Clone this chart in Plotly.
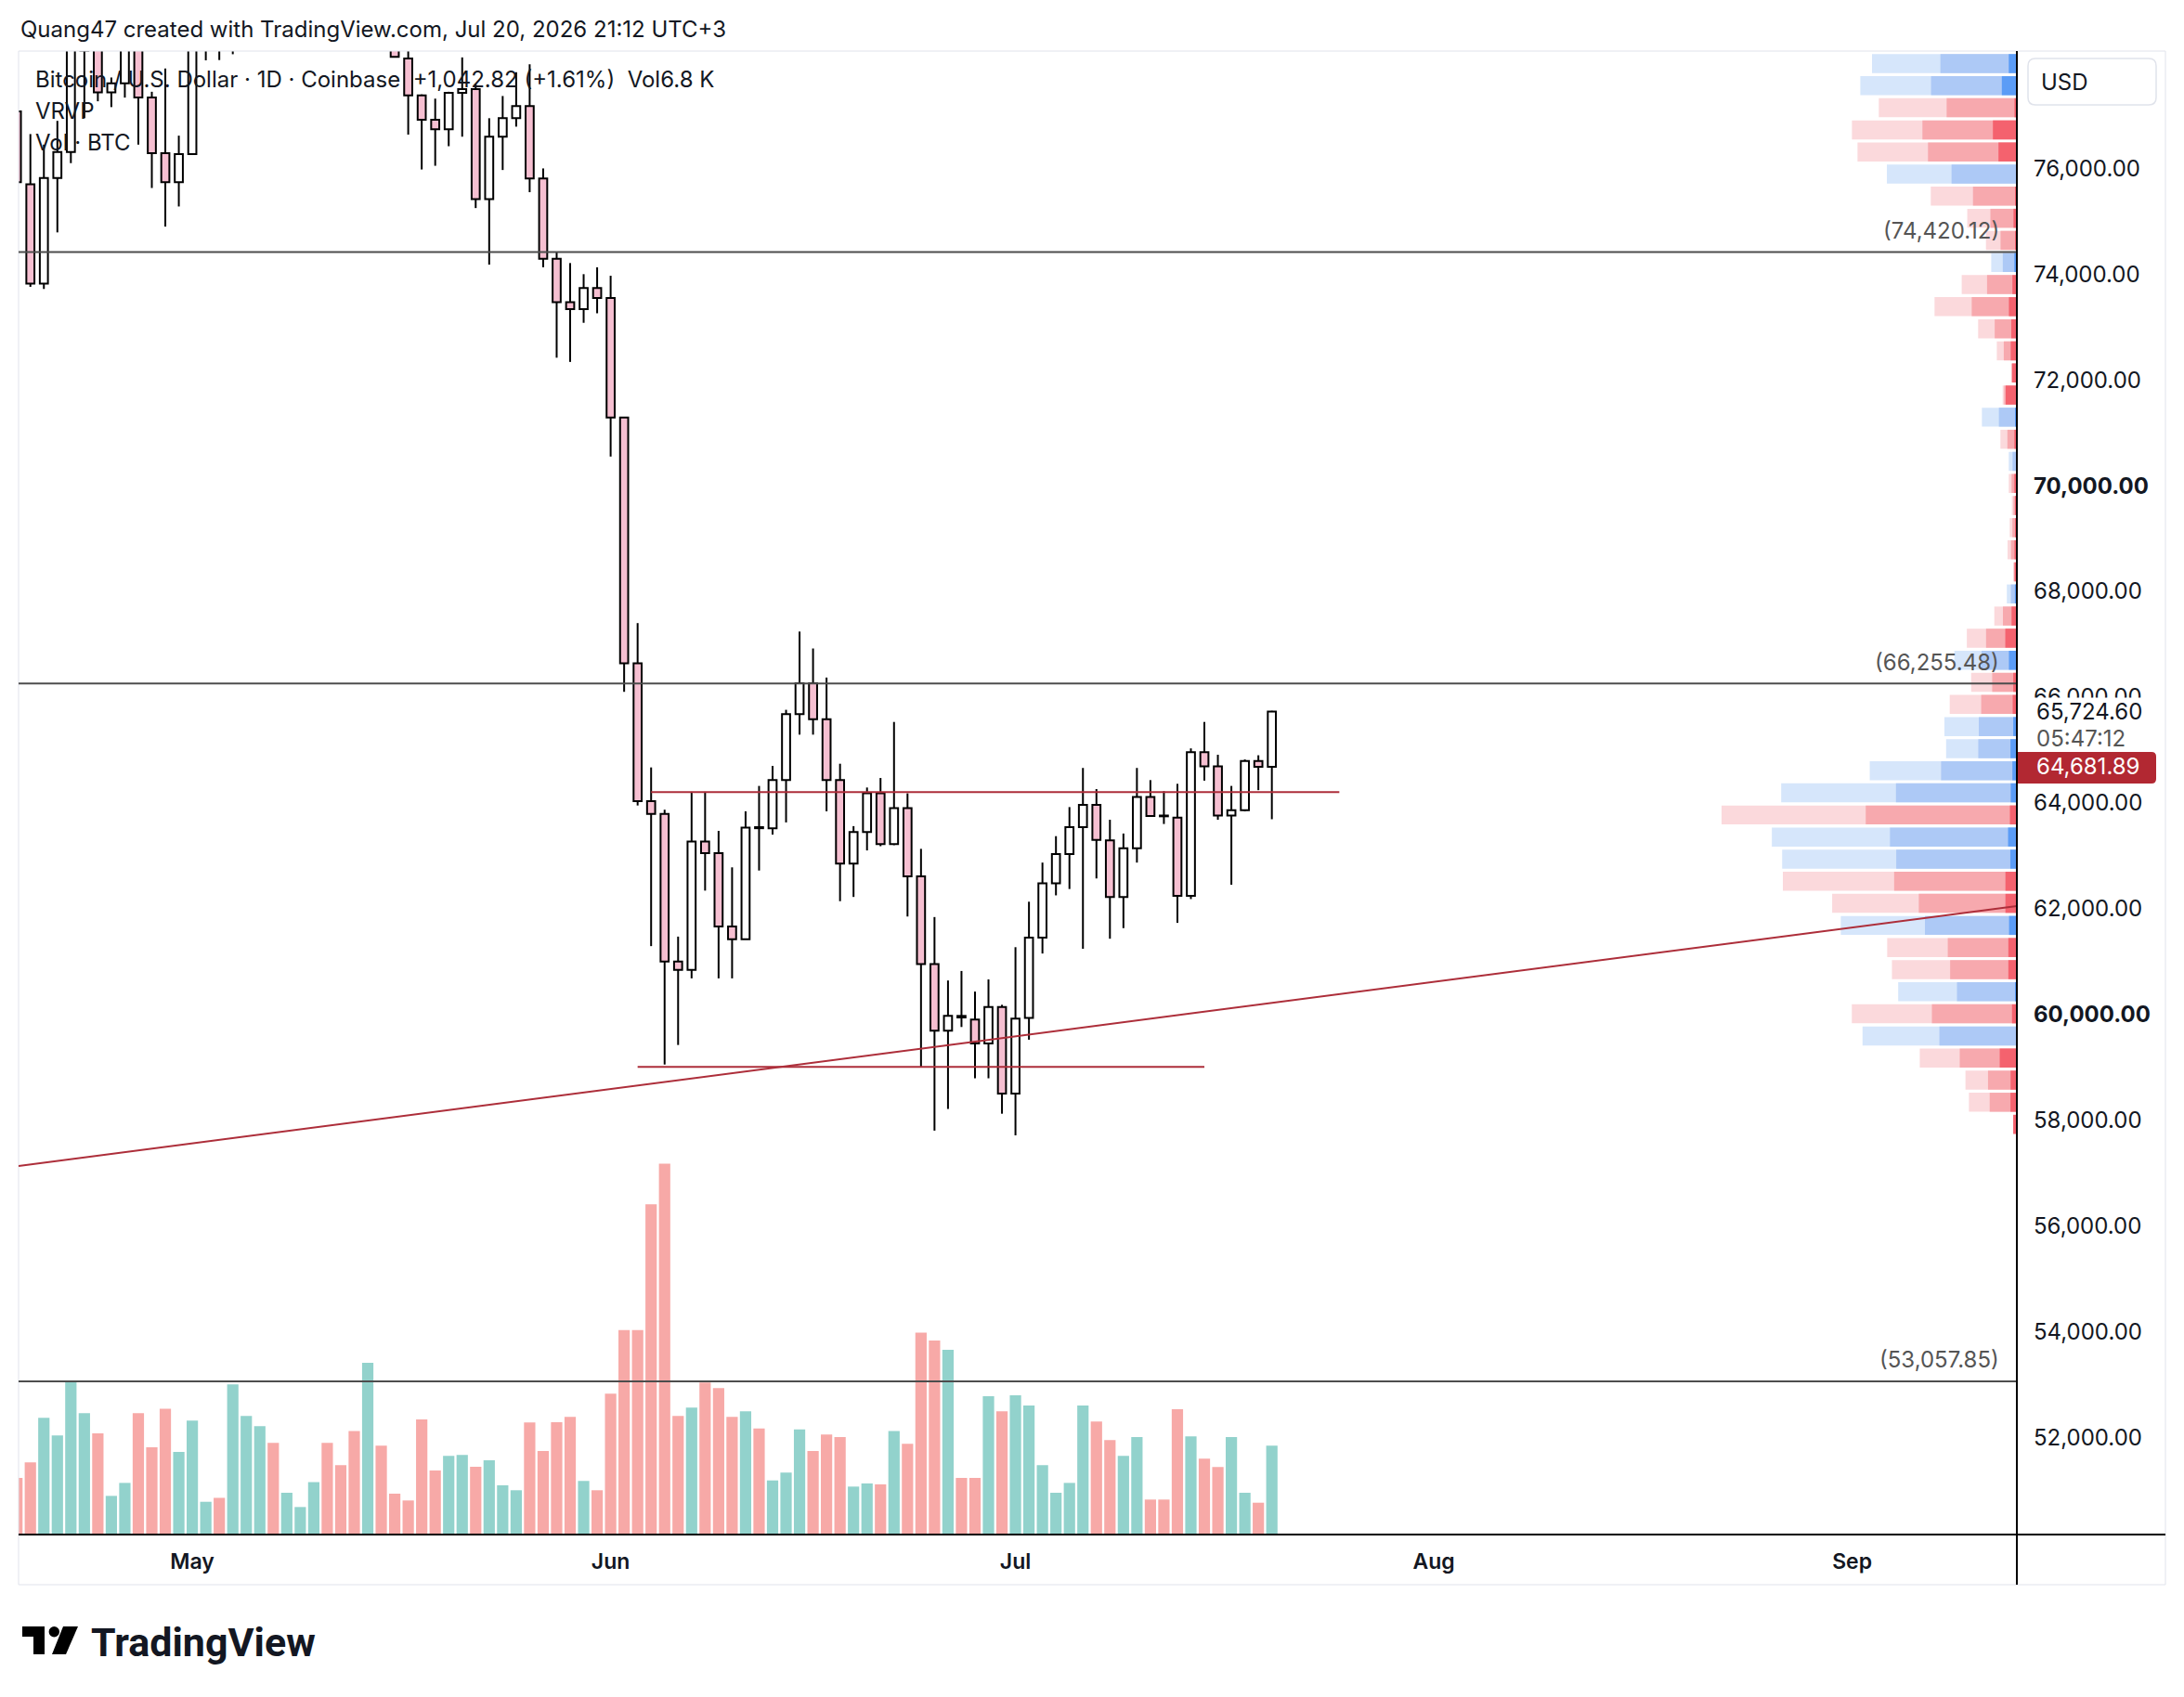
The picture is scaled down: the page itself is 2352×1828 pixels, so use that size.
import pandas as pd
import plotly.graph_objects as go

# ---------------- data ----------------
dates = pd.date_range("2026-04-18", "2026-07-20", freq="D")

open_ = [77080, 75700, 73820, 75820, 76310, 78230, 78700, 77440, 77610, 78400,
         77340, 76290, 75740, 76270, 78250, 78700, 78450, 79100, 79800, 80600,
         80100, 80500, 80700, 81200, 80400, 79900, 79200, 80300, 78600, 78080,
         77380, 76920, 76740, 77430, 77500, 75420, 76600, 76950, 77180, 75810,
         74290, 73470, 73340, 73740, 73550, 71290, 66640, 64030, 63790, 61000,
         60840, 63270, 63050, 61660, 61420, 63540, 63520, 64430, 65680, 66260,
         65580, 64430, 62850, 63450, 64180, 63220, 63900, 62610, 60950, 59690,
         59970, 59900, 59450, 60140, 58500, 59930, 61450, 62480, 63030, 63540,
         63960, 63290, 62220, 63140, 64110, 63760, 63720, 62240, 64960, 64690,
         63760, 63860, 64790, 64681.78]
high = [77300, 76650, 76450, 76900, 78500, 79300, 79000, 77720, 78700, 78650,
        77450, 77890, 76620, 78500, 78900, 78900, 79300, 80200, 81000, 81100,
        80800, 80900, 81500, 81600, 80600, 80100, 80800, 80500, 78800, 78300,
        77400, 77320, 77450, 78100, 77600, 76950, 77370, 77820, 77970, 76000,
        74420, 74210, 74000, 74130, 73970, 71300, 67400, 64670, 63870, 61470,
        64210, 64210, 63470, 62780, 63840, 64320, 64700, 65760, 67240, 66920,
        66370, 64740, 63560, 64290, 64470, 65530, 64180, 63130, 61840, 60640,
        60820, 60430, 60660, 60180, 61270, 62130, 62870, 63370, 63920, 64660,
        64260, 63680, 63420, 64660, 64430, 64220, 64360, 65030, 65530, 64910,
        64320, 64820, 64900, 65740]
low = [75600, 73760, 73720, 74790, 76100, 76950, 77270, 77160, 77340, 76450,
       75630, 74900, 75280, 76260, 78045, 78050, 78160, 78900, 79500, 79700,
       79900, 80300, 80500, 80200, 79600, 78900, 79000, 78350, 78100, 76640,
       75980, 76050, 76420, 76600, 75250, 74180, 75970, 76790, 75550, 74130,
       72420, 72340, 73080, 73260, 70550, 66100, 63950, 61290, 59050, 59420,
       60680, 62340, 60680, 60680, 61420, 62720, 63400, 63630, 65290, 65290,
       63840, 62140, 62220, 63100, 63180, 63200, 61850, 59010, 57800, 58210,
       59760, 58790, 58790, 58120, 57710, 59520, 61150, 62250, 62370, 61240,
       62570, 61430, 61630, 62870, 63740, 63600, 61730, 62180, 64420, 63680,
       62450, 63840, 64240, 63690]
close = [75740, 73820, 75820, 76310, 78300, 78900, 77440, 77610, 78400, 77340,
         76290, 75740, 76270, 78250, 78700, 78450, 79100, 79800, 80600, 80100,
         80500, 80700, 81200, 80400, 79900, 79200, 80300, 78600, 78110, 77380,
         76920, 76740, 77430, 77500, 75420, 76600, 76950, 77180, 75810, 74290,
         73470, 73340, 73740, 73550, 71290, 66640, 64030, 63790, 61000, 60840,
         63270, 63050, 61660, 61420, 63530, 63520, 64430, 65680, 66260, 65580,
         64430, 62850, 63450, 64180, 63220, 63900, 62610, 60950, 59690, 59970,
         59940, 59450, 60140, 58500, 59920, 61450, 62480, 63030, 63540, 63960,
         63300, 62220, 63140, 64110, 63750, 63745, 62240, 64960, 64690, 63760,
         63860, 64790, 64681.78, 65724.60]
volume_k = [4.32, 5.5, 8.9, 7.56, 11.7, 9.26, 7.72, 2.95, 3.94, 9.26,
            6.66, 9.6, 6.3, 8.7, 2.5, 2.8, 11.45, 9.05, 8.27, 7.0,
            3.19, 2.1, 4.0, 7.0, 5.3, 7.9, 13.1, 6.78, 3.12, 2.6,
            8.79, 4.89, 6.0, 6.07, 5.17, 5.67, 3.76, 3.38, 8.55, 6.38,
            8.57, 8.98, 4.09, 3.38, 10.75, 15.6, 15.6, 25.2, 28.3, 9.05,
            9.68, 11.6, 11.17, 8.98, 9.4, 8.1, 4.13, 4.72, 8.03, 6.38,
            7.63, 7.44, 3.66, 3.9, 3.83, 7.9, 6.92, 15.4, 14.8, 14.1,
            4.32, 4.32, 10.56, 9.4, 10.63, 9.85, 5.3, 3.19, 3.94, 9.85,
            8.62, 7.2, 6.0, 7.44, 2.67, 2.67, 9.56, 7.49, 5.79, 5.15,
            7.44, 3.19, 2.43, 6.78]

# visible-range volume profile (rows from the low upward)
PROFILE_LOW = 57710
PROFILE_ROW = 418
profile_up = [0.00, 1.49, 1.62, 2.87, 5.56, 5.75, 4.30, 4.18, 4.35, 6.60,
              6.22, 7.99, 8.66, 9.11, 10.35, 8.68, 5.44, 2.77, 2.73, 2.26,
              1.51, 2.53, 1.38, 0.62, 0.43, 0.05, 0.25, 0.19, 0.12, 0.20,
              0.31, 0.50, 1.29, 0.11, 0.03, 0.50, 1.19, 2.67, 1.82, 1.01,
              1.05, 1.66, 3.03, 4.69, 5.06, 5.06, 4.87, 6.16, 5.49]
profile_down = [0.26, 1.95, 2.07, 4.10, 5.52, 6.10, 4.22, 4.79, 4.96, 6.04,
                7.04, 8.81, 8.19, 8.48, 10.85, 8.24, 5.12, 2.31, 2.47, 2.56,
                1.77, 1.96, 2.21, 1.00, 0.29, 0.21, 0.42, 0.32, 0.24, 0.38,
                0.27, 0.68, 1.22, 0.91, 0.37, 0.94, 1.59, 3.24, 2.14, 0.83,
                1.17, 1.90, 3.15, 4.64, 6.38, 6.78, 5.04, 5.08, 4.91]

grey_levels = [74420.12, 66255.48, 53057.85]
red_levels = [("2026-06-04", "2026-07-25", 64203), ("2026-06-03", "2026-07-15", 59005)]
trend_anchor = [("2026-04-18", 57128.0), ("2026-09-13", 62040.0)]
last_price = 65724.60
prev_close = 64681.89
countdown = "05:47:12"

month_ticks = ["2026-05-01", "2026-06-01", "2026-07-01", "2026-08-01", "2026-09-01"]
month_text = ["May", "Jun", "Jul", "Aug", "Sep"]
price_ticks = list(range(52000, 76001, 2000))

# ---------------- layout geometry ----------------
W, H = 2352, 1828
PL, PR, PT, PB = 20, 2172, 55, 1653
X_RANGE = [pd.Timestamp("2026-04-18 03:00"), pd.Timestamp("2026-09-13 05:00")]
Y_RANGE = [50160, 78220]
VOL_TOP = 113.2
DAY = 86400000

PINK = "#f6bfd1"
TEAL = "#92d2cc"
VRED = "#f7a9a7"
LINE_RED = "#ad2e3a"
TXT = "#131722"
FONT = "Inter, Roboto, sans-serif"
AX = 24  # price-axis font size


def fx(x):
    return (x - PL) / (PR - PL)


def fy(y):
    return (PB - y) / (PB - PT)


def y_of_price(p):
    return PB - (p - Y_RANGE[0]) / (Y_RANGE[1] - Y_RANGE[0]) * (PB - PT)


def rrect(x0, y0, x1, y1, r, left=True):
    rl = r if left else 0
    p = []
    p.append(f"M{fx(x0 + rl)},{fy(y0)}")
    p.append(f"L{fx(x1 - r)},{fy(y0)}")
    p.append(f"Q{fx(x1)},{fy(y0)} {fx(x1)},{fy(y0 + r)}")
    p.append(f"L{fx(x1)},{fy(y1 - r)}")
    p.append(f"Q{fx(x1)},{fy(y1)} {fx(x1 - r)},{fy(y1)}")
    p.append(f"L{fx(x0 + rl)},{fy(y1)}")
    if left:
        p.append(f"Q{fx(x0)},{fy(y1)} {fx(x0)},{fy(y1 - r)}")
        p.append(f"L{fx(x0)},{fy(y0 + r)}")
        p.append(f"Q{fx(x0)},{fy(y0)} {fx(x0 + r)},{fy(y0)}")
    else:
        p.append(f"L{fx(x0)},{fy(y0)}")
    p.append("Z")
    return " ".join(p)


n = len(dates)
up = [c >= o for o, c in zip(open_, close)]

fig = go.Figure()

# wicks (split so they never cross the bodies)
wx, wy = [], []
for d, o, h, l, c in zip(dates, open_, high, low, close):
    top, bot = max(o, c), min(o, c)
    wx += [d, d, None, d, d, None]
    wy += [h, top, None, bot, l, None]
fig.add_trace(go.Scatter(x=wx, y=wy, mode="lines", line=dict(color="#000000", width=2),
                         hoverinfo="skip", showlegend=False))

# bodies
for is_up, fill in [(False, PINK), (True, "#ffffff")]:
    idx = [i for i in range(n) if up[i] == is_up]
    fig.add_trace(go.Bar(
        x=[dates[i] for i in idx],
        y=[max(abs(close[i] - open_[i]), 12) for i in idx],
        base=[min(open_[i], close[i]) for i in idx],
        width=0.6 * DAY,
        marker=dict(color=fill, line=dict(color="#000000", width=2)),
        hoverinfo="skip", showlegend=False))

# volume
fig.add_trace(go.Bar(x=dates, y=volume_k, yaxis="y2", width=0.84 * DAY,
                     marker=dict(color=[TEAL if u else VRED for u in up], line=dict(width=0)),
                     hoverinfo="skip", showlegend=False))

# volume profile
rows = [PROFILE_LOW + PROFILE_ROW * (i + 0.5) for i in range(len(profile_up))]
tot = [u + d for u, d in zip(profile_up, profile_down)]
major = [max(u, d) for u, d in zip(profile_up, profile_down)]
delta = [abs(u - d) for u, d in zip(profile_up, profile_down)]
buy = [u >= d for u, d in zip(profile_up, profile_down)]
shades = [(tot, "#d6e6fb", "#fbd9dc"), (major, "#adc9f6", "#f7a9ae"), (delta, "#5b9cf6", "#f4626e")]
for vals, cb, cr in shades:
    fig.add_trace(go.Bar(x=vals, y=rows, orientation="h", xaxis="x3", yaxis="y",
                         width=PROFILE_ROW * 0.86,
                         marker=dict(color=[cb if b else cr for b in buy], line=dict(width=0)),
                         hoverinfo="skip", showlegend=False))

# ---------------- shapes ----------------
shapes = []
shapes.append(dict(type="rect", xref="paper", yref="paper", x0=fx(20), x1=fx(2332), y0=fy(1707), y1=fy(55),
                   line=dict(color="#e0e3eb", width=1), layer="above"))
for lv in grey_levels:
    shapes.append(dict(type="line", xref="paper", yref="y", x0=0, x1=1, y0=lv, y1=lv,
                       line=dict(color="#4d4d4d", width=2), layer="above"))
for s, e, p in red_levels:
    shapes.append(dict(type="line", xref="x", yref="y", x0=s, x1=e, y0=p, y1=p,
                       line=dict(color=LINE_RED, width=2), layer="above"))
(t0, p0), (t1, p1) = trend_anchor
t0, t1 = pd.Timestamp(t0), pd.Timestamp(t1)
slope = (p1 - p0) / (t1 - t0).total_seconds()


def trend(t):
    return p0 + slope * (t - t0).total_seconds()


shapes.append(dict(type="line", xref="x", yref="y", x0=X_RANGE[0], x1=X_RANGE[1],
                   y0=trend(X_RANGE[0]), y1=trend(X_RANGE[1]),
                   line=dict(color=LINE_RED, width=2), layer="above"))
shapes.append(dict(type="line", xref="paper", yref="paper", x0=1, x1=1, y0=fy(1707), y1=1,
                   line=dict(color="#000000", width=2), layer="above"))
shapes.append(dict(type="line", xref="paper", yref="paper", x0=0, x1=fx(2332), y0=0, y1=0,
                   line=dict(color="#000000", width=2), layer="above"))
shapes.append(dict(type="path", xref="paper", yref="paper", path=rrect(2184, 63, 2322, 113, 8),
                   line=dict(color="#e0e3eb", width=1.5), fillcolor="white", layer="above"))
yl = y_of_price(last_price)
shapes.append(dict(type="rect", xref="paper", yref="paper", x0=fx(2174), x1=fx(2330),
                   y0=fy(yl + 44), y1=fy(yl - 15), line=dict(width=0), fillcolor="white", layer="above"))
yp = y_of_price(prev_close)
shapes.append(dict(type="path", xref="paper", yref="paper", path=rrect(2173, yp - 16, 2322, yp + 18, 5, left=False),
                   line=dict(width=0), fillcolor="#b22832", layer="above"))
logo_T = [(24, 1752), (48, 1752), (48, 1782), (36, 1782), (36, 1763), (24, 1763)]
logo_S = [(68, 1752), (84, 1752), (71, 1782), (56, 1782)]
for poly in (logo_T, logo_S):
    path = "M" + " L".join(f"{fx(x)},{fy(y)}" for x, y in poly) + " Z"
    shapes.append(dict(type="path", xref="paper", yref="paper", path=path, fillcolor="#000000",
                       line=dict(width=0), layer="above"))
shapes.append(dict(type="circle", xref="paper", yref="paper", x0=fx(52.6), x1=fx(64), y0=fy(1763.4), y1=fy(1752),
                   fillcolor="#000000", line=dict(width=0), layer="above"))

# ---------------- annotations ----------------
ann = []


def text(x, y, s, size=24, color=TXT, xanchor="left", yref="paper", yshift=0, weight=None, family=FONT):
    f = dict(size=size, color=color, family=family)
    if weight:
        f["weight"] = weight
    ann.append(dict(x=x, y=y, xref="paper", yref=yref, text=s, showarrow=False, xanchor=xanchor,
                    yanchor="middle", font=f, yshift=yshift))


text(fx(20), fy(31), "Quang47 created with TradingView.com, Jul 20, 2026 21:12 UTC+3")
text(fx(36), fy(86), "Bitcoin / U.S. Dollar · 1D · Coinbase  +1,042.82 (+1.61%)  Vol6.8 K")
text(fx(36), fy(120), "VRVP")
text(fx(36), fy(153), "Vol · BTC")
for lv in grey_levels:
    text(fx(2155), lv, f"({lv:,.2f})", size=AX, color="#555555", xanchor="right", yref="y", yshift=23)
text(fx(2196), fy(88), "USD", size=AX)
text(fx(2191), last_price, f"{last_price:,.2f}", size=AX, yref="y")
text(fx(2191), last_price, countdown, size=AX, color="#555555", yref="y", yshift=-29)
text(fx(2191), prev_close, f"{prev_close:,.2f}", size=AX, color="#ffffff", yref="y")
text(fx(96), fy(1769), "TradingView", size=43, weight=700, family="Roboto, sans-serif")

ptext = [f"<b>{p:,.2f}</b>" if p % 10000 == 0 else f"{p:,.2f}" for p in price_ticks]

fig.update_layout(
    width=W, height=H,
    margin=dict(l=PL, r=W - PR, t=PT, b=H - PB),
    paper_bgcolor="white", plot_bgcolor="white",
    barmode="overlay", showlegend=False, hovermode=False,
    font=dict(family=FONT, color=TXT, size=24),
    xaxis=dict(type="date", range=X_RANGE, showgrid=False, zeroline=False, showline=False,
               tickmode="array", tickvals=month_ticks, ticktext=month_text, ticks="",
               tickfont=dict(size=23, weight=600, color=TXT), ticklabelstandoff=13),
    yaxis=dict(side="right", range=Y_RANGE, showgrid=False, zeroline=False, showline=False,
               tickmode="array", tickvals=price_ticks, ticktext=ptext, ticks="",
               tickfont=dict(size=AX, color=TXT), ticklabelstandoff=17),
    yaxis2=dict(overlaying="y", range=[0, VOL_TOP], visible=False),
    xaxis3=dict(overlaying="x", range=[(PR - PL) / 15.0, 0], visible=False),
    shapes=shapes, annotations=ann,
)

fig.write_html("out.html")
